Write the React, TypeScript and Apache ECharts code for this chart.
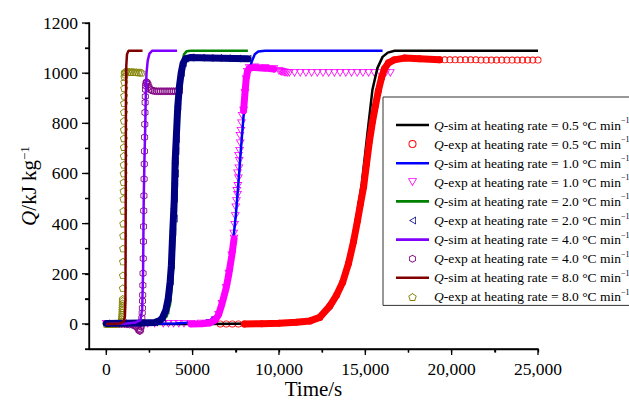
import React, { useEffect, useRef } from 'react';
import * as echarts from 'echarts';

type P = [number, number];

const FONT = 'Liberation Serif';

// axis ranges, ticks and labels
const X_MIN = -1000;
const X_MAX = 25000;
const Y_MIN = -100;
const Y_MAX = 1200;
const xLabelValues = [0, 5000, 10000, 15000, 20000, 25000];
const xTickValues = [0, 2500, 5000, 7500, 10000, 12500, 15000, 17500, 20000, 22500, 25000];
const yLabelValues = [0, 200, 400, 600, 800, 1000, 1200];
const yTickValues = [-100, 0, 100, 200, 300, 400, 500, 600, 700, 800, 900, 1000, 1100, 1200];

const rateLabels = ['0.5', '1.0', '2.0', '4.0', '8.0'];
const simColors = ['#000000', '#0000ff', '#008000', '#8000ff', '#800000'];
const expColors = ['#ff0000', '#ff00ff', '#000080', '#800080', '#808000'];

// ---------- heating rate 0.5 ----------
const sim05: P[] = [[0, 0], [6000, 0], [9000, 2], [11000, 8], [12000, 18], [12500, 32], [13000, 62], [13400, 110], [13800, 190], [14200, 310], [14500, 430], [14800, 560], [15130, 764], [15415, 935], [15700, 1020], [16000, 1065], [16300, 1082], [16700, 1089], [25000, 1089]];
const exp05Band: P[] = [[8000, 0], [9000, 1], [10000, 3], [11000, 7], [11800, 12], [12360, 26], [12940, 71], [13340, 115], [13690, 166], [14030, 242], [14320, 329], [14550, 412], [14720, 479], [14900, 546], [15070, 638], [15240, 729], [15420, 808], [15590, 871], [15760, 931], [15940, 982], [16110, 1018], [16340, 1041], [16680, 1053], [17260, 1060], [18130, 1057], [19300, 1053]];
const exp05Marks: P[] = [[6600, 0], [6950, 0], [7300, 0], [7650, 0], [19600, 1053], [19900, 1053], [20200, 1053], [20500, 1053], [20800, 1053], [21100, 1053], [21400, 1053], [21700, 1052], [22000, 1052], [22300, 1052], [22600, 1052], [22900, 1052], [23200, 1052], [23500, 1052], [23800, 1052], [24100, 1052], [24400, 1052], [24700, 1052], [25000, 1052]];

// ---------- heating rate 1.0 ----------
const sim10: P[] = [[0, 0], [4000, 2], [5500, 8], [6000, 15], [6400, 35], [6700, 75], [6950, 150], [7150, 240], [7360, 340], [7500, 432], [7650, 560], [7800, 700], [7950, 830], [8130, 950], [8300, 1015], [8420, 1045], [8600, 1075], [8800, 1086], [9200, 1089], [16000, 1089]];
const exp10BandLow: P[] = [[4900, 0], [5500, 1], [6000, 4], [6300, 15], [6500, 36], [6700, 80], [6940, 143], [7100, 200], [7270, 273], [7400, 340]];
const exp10Mid: P[] = [[0, 0], [400, 0], [800, 0], [1200, 0], [1600, 0], [2000, 0], [2400, 0], [2800, 0], [3300, 0], [3600, 0], [3900, 0], [4200, 0], [4500, 0], [7380, 360], [7430, 395], [7470, 430], [7500, 465], [7540, 490], [7600, 515], [7560, 530], [7620, 550], [7650, 580], [7600, 600], [7680, 620], [7700, 650], [7660, 670], [7720, 690], [7760, 720], [7740, 750], [7800, 770], [7830, 800], [7870, 830]];
const exp10BandTop: P[] = [[7950, 850], [8030, 920], [8100, 975], [8170, 1005], [8280, 1020], [8600, 1023], [9200, 1020], [9700, 1016]];
const exp10Plateau: P[] = [[10000, 1008], [10080, 1006], [10160, 1004], [10240, 1003], [10320, 1002], [10400, 1001], [10480, 1000], [10600, 1000], [10900, 1000], [11230, 1000], [11560, 1000], [11890, 1000], [12220, 1000], [12550, 1000], [12880, 1000], [13210, 1000], [13540, 1000], [13870, 1000], [14200, 1000], [14530, 1000], [14860, 1000], [15190, 1000], [15520, 1000], [15850, 1000], [16180, 1000], [16450, 1000]];

// ---------- heating rate 2.0 ----------
const sim20: P[] = [[0, 0], [2500, 3], [3200, 10], [3500, 30], [3700, 80], [3850, 200], [3950, 350], [4000, 500], [4050, 600], [4100, 700], [4200, 850], [4300, 970], [4400, 1040], [4500, 1075], [4650, 1087], [4900, 1089], [8200, 1089]];
const exp20Band: P[] = [[0, 2], [1000, 3], [2000, 4], [2800, 6], [3100, 14], [3250, 24], [3450, 55], [3590, 103], [3700, 170], [3770, 234], [3850, 368], [3900, 440], [3940, 500], [3960, 560], [3990, 650], [4050, 737], [4140, 867], [4240, 950], [4340, 1002], [4450, 1040], [4600, 1058], [4850, 1062], [6000, 1060], [8200, 1057]];
const exp20Marks: P[] = [[3930, 420], [3900, 460], [3950, 530], [4000, 600], [3970, 640], [4030, 690], [4900, 1062], [5500, 1061], [6500, 1060], [7000, 1059], [7600, 1058]];

// ---------- heating rate 4.0 ----------
const sim40: P[] = [[0, 0], [1200, 2], [1700, 6], [1980, 15], [2080, 60], [2130, 200], [2150, 350], [2170, 500], [2210, 650], [2260, 800], [2290, 920], [2330, 1000], [2400, 1050], [2500, 1078], [2650, 1089], [4100, 1089]];
const exp40: P[] = [[600, 0], [750, 0], [900, 0], [1050, 0], [1200, -1], [1350, -2], [1500, -3], [1600, -5], [1700, -8], [1780, -13], [1850, -20], [1900, -26], [1950, -28], [1990, -22], [2020, -10], [2040, 5], [2060, 24], [2080, 44], [2090, 63], [2100, 91], [2110, 115], [2120, 154], [2130, 202], [2140, 261], [2150, 329], [2160, 388], [2170, 451], [2180, 511], [2190, 578], [2200, 638], [2210, 689], [2220, 744], [2230, 796], [2240, 843], [2250, 883], [2260, 907], [2270, 935], [2280, 950], [2300, 960], [2330, 965], [2370, 962], [2420, 955], [2470, 945], [2530, 937], [2600, 932], [2700, 930], [2800, 929], [2920, 928], [3040, 928], [3160, 928], [3280, 928], [3400, 928], [3520, 928], [3640, 928], [3760, 928], [3880, 928], [4000, 928], [4120, 928], [4240, 928]];

// ---------- heating rate 8.0 ----------
const sim80: P[] = [[0, 0], [800, 2], [1000, 8], [1080, 30], [1110, 100], [1120, 300], [1130, 600], [1140, 900], [1160, 1030], [1200, 1075], [1280, 1089], [2100, 1089]];
const exp80: P[] = [[0, 0], [100, 0], [200, 0], [300, 0], [400, 0], [500, 1], [600, 1], [700, 2], [800, 3], [850, 6], [880, 12], [900, 20], [910, 28], [920, 36], [925, 45], [930, 54], [935, 63], [940, 72], [945, 82], [950, 92], [955, 100], [960, 143], [965, 194], [970, 249], [975, 301], [980, 352], [985, 400], [990, 451], [995, 499], [1000, 530], [1003, 565], [1006, 600], [1009, 635], [1012, 670], [1015, 705], [1018, 740], [1021, 775], [1024, 810], [1027, 845], [1030, 880], [1035, 910], [1040, 940], [1045, 965], [1050, 985], [1060, 998], [1080, 1005], [1150, 1006], [1250, 1006], [1350, 1005], [1450, 1005], [1550, 1005], [1650, 1004], [1750, 1004], [1850, 1003], [1950, 1003], [2050, 1002]];

// hollow marker shapes (outer ring + reversed inner ring)
const circleIcon = 'path://M10,0A10,10 0 1,1 10,20A10,10 0 1,1 10,0ZM10,2.4A7.6,7.6 0 1,0 10,17.6A7.6,7.6 0 1,0 10,2.4Z';
const triDownIcon = 'path://M0,0L20,0L10,17.32ZM3,1.73L10,13.86L17,1.73Z';
const triLeftIcon = 'path://M0,10L17.32,0L17.32,20ZM3.46,10L15.57,17L15.57,3Z';
const hexIcon = 'path://M10,0L18.66,5L18.66,15L10,20L1.34,15L1.34,5ZM10,2.4L3.42,6.2L3.42,13.8L10,17.6L16.58,13.8L16.58,6.2Z';
const pentIcon = 'path://M10,0L19.51,6.91L15.88,18.09L4.12,18.09L0.49,6.91ZM10,2.4L2.77,7.65L5.53,16.15L14.47,16.15L17.23,7.65Z';
const lineIcon = 'path://M0,0L33,0L33,2.6L0,2.6Z';

const simName = (r: string) => `Q-sim at heating rate = ${r} °C min-1`;
const expName = (r: string) => `Q-exp at heating rate = ${r} °C min-1`;

function buildSeries() {
  const series: any[] = [];
  const addSim = (i: number, data: P[]) =>
    series.push({
      name: simName(rateLabels[i]), type: 'line', data, symbol: 'none', showSymbol: false,
      lineStyle: { color: simColors[i], width: 2.5 }, itemStyle: { color: simColors[i] },
    });
  let bandCount = 0;
  const addBand = (i: number, data: P[]) =>
    series.push({
      name: `band${bandCount++}`, type: 'line', data, symbol: 'none', silent: true,
      lineStyle: { color: expColors[i], width: 7, cap: 'round', join: 'round' },
      itemStyle: { color: expColors[i] },
    });
  const addExp = (i: number, data: P[], icon: string, size: number) =>
    series.push({
      name: expName(rateLabels[i]), type: 'scatter', data, symbol: icon, symbolSize: size,
      symbolKeepAspect: true, itemStyle: { color: expColors[i], opacity: 1 },
    });

  addSim(0, sim05);
  addBand(0, exp05Band);
  addExp(0, [...exp05Band, ...exp05Marks], circleIcon, 7);
  addSim(1, sim10);
  addBand(1, exp10BandLow);
  addBand(1, exp10BandTop);
  addExp(1, [...exp10BandLow, ...exp10Mid, ...exp10BandTop, ...exp10Plateau], triDownIcon, 9);
  addSim(2, sim20);
  addBand(2, exp20Band);
  addExp(2, [...exp20Band, ...exp20Marks], triLeftIcon, 8);
  addSim(3, sim40);
  addExp(3, exp40, hexIcon, 8);
  addSim(4, sim80);
  addExp(4, exp80, pentIcon, 8);
  return series;
}

function buildOption(series: any[]) {
  const expIcons = [circleIcon, triDownIcon, triLeftIcon, hexIcon, pentIcon];
  const legendData: any[] = [];
  rateLabels.forEach((r, i) => {
    legendData.push({ name: simName(r), icon: lineIcon });
    legendData.push({ name: expName(r), icon: expIcons[i] });
  });

  const labelStyle = { fontFamily: FONT, fontSize: 17.5, color: '#000' };
  const axisStroke = { color: '#000000', width: 1.3 };

  return {
    animation: false,
    backgroundColor: '#ffffff',
    textStyle: { fontFamily: FONT },
    grid: { left: 89, right: 91, top: 23, bottom: 53, containLabel: false },
    legend: {
      orient: 'vertical', left: 383, top: 97, z: 30,
      data: legendData, selectedMode: false,
      itemWidth: 33, itemHeight: 8, itemGap: 2.1,
      padding: [19.5, 2, 0, 13],
      backgroundColor: '#ffffff', borderColor: '#333333', borderWidth: 1,
      formatter: (n: string) => '{i|Q}' + n.slice(1, -2) + '{s|−1}',
      textStyle: {
        fontFamily: FONT, fontSize: 13.5, color: '#000', lineHeight: 17,
        rich: {
          i: { fontFamily: FONT, fontSize: 13.5, fontStyle: 'italic', color: '#000', lineHeight: 17 },
          s: { fontFamily: FONT, fontSize: 8, color: '#000', verticalAlign: 'top', lineHeight: 8 },
        },
      },
    },
    xAxis: {
      type: 'value', min: X_MIN, max: X_MAX,
      axisLine: { show: true, onZero: false, lineStyle: axisStroke },
      axisTick: { show: true, inside: false, customValues: xTickValues, length: 3.5, lineStyle: axisStroke },
      axisLabel: {
        ...labelStyle, margin: 11, customValues: xLabelValues,
        formatter: (v: number) => (v >= 10000 ? v.toLocaleString('en-US') : String(v)),
      },
      splitLine: { show: false },
      name: 'Time/s', nameLocation: 'middle', nameGap: 29, nameMoveOverlap: false,
      nameTextStyle: { fontFamily: FONT, fontSize: 21, color: '#000' },
    },
    yAxis: {
      type: 'value', min: Y_MIN, max: Y_MAX,
      axisLine: { show: true, onZero: false, lineStyle: axisStroke },
      axisTick: { show: true, inside: false, customValues: yTickValues, length: 4, lineStyle: axisStroke },
      axisLabel: { ...labelStyle, margin: 11, customValues: yLabelValues, formatter: (v: number) => String(v) },
      splitLine: { show: false },
      name: '{i|Q}/kJ kg{s|−1}', nameLocation: 'middle', nameGap: 50, nameMoveOverlap: false,
      nameTextStyle: {
        fontFamily: FONT, fontSize: 21, color: '#000',
        rich: {
          i: { fontFamily: FONT, fontSize: 21, fontStyle: 'italic', color: '#000' },
          s: { fontFamily: FONT, fontSize: 13, color: '#000', verticalAlign: 'top' },
        },
      },
    },
    series,
  };
}

// axis frame and major ticks as filled rectangles, positioned through the chart's own scales
function buildAxisRects(chart: echarts.ECharts) {
  const px = (x: number, y: number) => chart.convertToPixel({ xAxisIndex: 0, yAxisIndex: 0 } as any, [x, y]) as number[];
  const w = 1.3;
  const h = w / 2;
  const corner = px(X_MIN, Y_MIN);
  const top = px(X_MIN, Y_MAX);
  const right = px(X_MAX, Y_MIN);
  if (!corner || !top || !right || corner.some((n) => !isFinite(n))) return [];
  const style = { fill: '#000000' };
  const els: any[] = [
    { type: 'rect', z: 100, silent: true, shape: { x: corner[0] - h, y: top[1] - h, width: w, height: corner[1] - top[1] + w }, style },
    { type: 'rect', z: 100, silent: true, shape: { x: corner[0] - h, y: corner[1] - h, width: right[0] - corner[0] + w, height: w }, style },
  ];
  xTickValues.forEach((v) => {
    const p = px(v, Y_MIN);
    const len = xLabelValues.includes(v) ? 6 : 3.5;
    els.push({ type: 'rect', z: 100, silent: true, shape: { x: p[0] - h, y: p[1], width: w, height: len }, style });
  });
  yTickValues.forEach((v) => {
    const p = px(X_MIN, v);
    const len = yLabelValues.includes(v) ? 7 : 4;
    els.push({ type: 'rect', z: 100, silent: true, shape: { x: p[0] - len, y: p[1] - h, width: len, height: w }, style });
  });
  return els;
}

export default function App() {
  const ref = useRef<HTMLDivElement>(null);
  useEffect(() => {
    document.body.style.margin = '0';
    const chart = echarts.init(ref.current!, null, { renderer: 'svg' });
    chart.setOption(buildOption(buildSeries()) as any);
    try {
      const rects = buildAxisRects(chart);
      if (rects.length) chart.setOption({ graphic: { elements: rects } } as any);
    } catch (e) {
      // keep the native axes if conversion is unavailable
    }
    return () => chart.dispose();
  }, []);
  return <div ref={ref} style={{ width: 629, height: 404 }} />;
}
